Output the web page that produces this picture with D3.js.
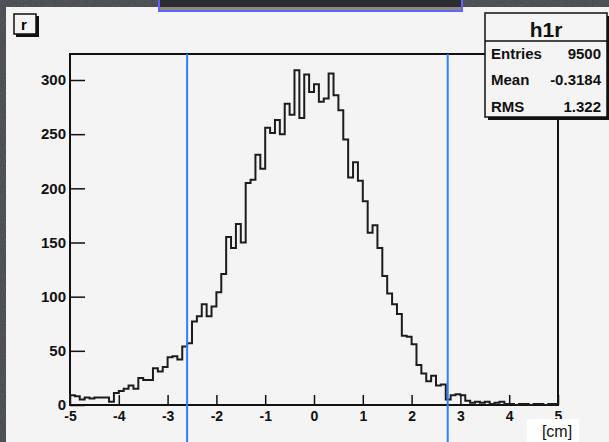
<!DOCTYPE html>
<html>
<head>
<meta charset="utf-8">
<title>h1r</title>
<script src="https://cdn.jsdelivr.net/npm/d3@7/dist/d3.min.js"></script>
<style>
  html, body { margin: 0; padding: 0; background: #3d4045; }
  svg { display: block; }
  text { font-family: "Liberation Sans", Arial, Helvetica, sans-serif; }
</style>
</head>
<body>
<svg id="svg" width="609" height="442"></svg>
<script>
// histogram h1r: 100 bins from -5 to 5
const xMin = -5;
const xMax = 5;
const counts = [
  9, 8, 5, 7, 6, 7, 7, 7, 3, 11,
  13, 15, 18, 15, 25, 23, 23, 34, 31, 35,
  44, 45, 42, 54, 57, 77, 82, 93, 82, 91,
  104, 121, 155, 145, 167, 150, 205, 208, 231, 218,
  256, 251, 263, 250, 278, 268, 309, 265, 305, 289,
  296, 280, 283, 306, 286, 272, 245, 210, 224, 207,
  188, 159, 166, 145, 119, 103, 93, 84, 64, 63,
  56, 37, 29, 22, 27, 18, 19, 5, 9, 10,
  9, 4, 2, 3, 2, 3, 1, 2, 3, 1,
  1, 0, 1, 1, 0, 1, 1, 0, 1, 1
];
const xTickValues = [-5, -4, -3, -2, -1, 0, 1, 2, 3, 4, 5];
const yTickValues = [0, 50, 100, 150, 200, 250, 300];
const cutLines = [-2.6, 2.74];
const statLabels = ['Entries', 'Mean', 'RMS'];
const statValues = ['9500', '-0.3184', '1.322'];
const histName = 'h1r';
const padName = 'r';
const xUnit = '[cm]';
const yTop = 324; // ROOT puts 5% headroom over the max bin

(function () {
  const svg = d3.select('#svg');
  const W = 609, H = 442;
  const frame = { left: 70, right: 558, top: 54, bottom: 405 };

  // dark slide background with a bit of grain
  const defs = svg.append('defs');
  const grain = defs.append('filter').attr('id', 'grain');
  grain.append('feTurbulence').attr('type', 'fractalNoise').attr('baseFrequency', 0.9).attr('numOctaves', 2).attr('result', 'n');
  grain.append('feColorMatrix').attr('in', 'n').attr('type', 'matrix')
    .attr('values', '0 0 0 0 0.3  0 0 0 0 0.31  0 0 0 0 0.34  0 0 0 0.5 0');
  grain.append('feComposite').attr('in2', 'SourceGraphic').attr('operator', 'over');

  svg.append('rect').attr('width', W).attr('height', H).attr('fill', '#3b3e43');
  svg.append('rect').attr('width', W).attr('height', H).attr('fill', '#3b3e43').attr('filter', 'url(#grain)').attr('opacity', 0.6);

  // canvas
  svg.append('rect').attr('x', 6).attr('y', 7).attr('width', W - 6).attr('height', H - 7).attr('fill', '#f4f4f4');

  // window strip at the top
  const strip = svg.append('g');
  strip.append('rect').attr('x', 158).attr('y', 0).attr('width', 305).attr('height', 12).attr('fill', '#6262ff');
  strip.append('rect').attr('x', 160).attr('y', 0).attr('width', 301).attr('height', 10).attr('fill', '#2b2d33');
  strip.append('rect').attr('x', 160).attr('y', 7).attr('width', 301).attr('height', 3).attr('fill', '#8a8a82');

  // pad label box
  svg.append('rect').attr('x', 16).attr('y', 16).attr('width', 23).attr('height', 21).attr('fill', '#111');
  svg.append('rect').attr('x', 14).attr('y', 14).attr('width', 22).attr('height', 20)
    .attr('fill', '#f4f4f4').attr('stroke', '#111').attr('stroke-width', 1.5);
  svg.append('text').attr('x', 21).attr('y', 30).attr('font-size', 15).attr('font-weight', 'bold').text(padName);

  const x = d3.scaleLinear().domain([xMin, xMax]).range([frame.left, frame.right]);
  const y = d3.scaleLinear().domain([0, yTop]).range([frame.bottom, frame.top]);

  // minor ticks
  const xMinor = d3.range(-25, 26).map(i => i / 5);
  const yMinor = d3.range(0, 33).map(i => i * 10);
  const plain = d => String(d); // ASCII hyphen like ROOT, not U+2212

  const gx = svg.append('g').attr('transform', `translate(0,${frame.bottom})`);
  gx.call(d3.axisBottom(x).tickValues(xMinor).tickSize(-5).tickFormat(''));
  gx.call(d3.axisBottom(x).tickValues(xTickValues).tickSize(-10).tickPadding(4).tickFormat(plain));
  const gy = svg.append('g').attr('transform', `translate(${frame.left},0)`);
  gy.call(d3.axisLeft(y).tickValues(yMinor).tickSize(-7).tickFormat(''));
  gy.call(d3.axisLeft(y).tickValues(yTickValues).tickSize(-15).tickPadding(4).tickFormat(plain));

  svg.selectAll('.domain').remove();
  svg.selectAll('.tick line').attr('stroke', '#111').attr('stroke-width', 1.5);
  svg.selectAll('.tick text').attr('fill', '#111').attr('font-size', 15).attr('font-weight', 'bold')
    .attr('font-family', '"Liberation Sans", Arial, sans-serif');
  gx.selectAll('.tick text').attr('font-size', 14).attr('dy', '0.85em');

  svg.append('rect').attr('x', frame.left).attr('y', frame.top)
    .attr('width', frame.right - frame.left).attr('height', frame.bottom - frame.top)
    .attr('fill', 'none').attr('stroke', '#111').attr('stroke-width', 2);

  // histogram outline
  const binW = (xMax - xMin) / counts.length;
  const pts = [[xMin, 0]].concat(counts.map((c, i) => [xMin + i * binW, c]), [[xMax, counts[counts.length - 1]], [xMax, 0]]);
  const line = d3.line().x(d => x(d[0])).y(d => y(d[1])).curve(d3.curveStepAfter);
  svg.append('path').attr('d', line(pts)).attr('fill', 'none').attr('stroke', '#1c1c1c').attr('stroke-width', 2);

  // cut lines
  svg.selectAll('line.cut').data(cutLines).join('line').attr('class', 'cut')
    .attr('x1', d => x(d)).attr('x2', d => x(d))
    .attr('y1', frame.top).attr('y2', H)
    .attr('stroke', '#2f80ff').attr('stroke-width', 2);

  // stats box
  const sb = { x: 485, y: 13, w: 122, h: 104 };
  svg.append('rect').attr('x', sb.x + 3).attr('y', sb.y + 3).attr('width', sb.w).attr('height', sb.h).attr('fill', '#111');
  svg.append('rect').attr('x', sb.x).attr('y', sb.y).attr('width', sb.w).attr('height', sb.h)
    .attr('fill', '#f4f4f4').attr('stroke', '#111').attr('stroke-width', 1.5);
  svg.append('line').attr('x1', sb.x).attr('x2', sb.x + sb.w).attr('y1', 41).attr('y2', 41)
    .attr('stroke', '#111').attr('stroke-width', 1.5);
  svg.append('text').attr('x', sb.x + sb.w / 2).attr('y', 36.5).attr('text-anchor', 'middle')
    .attr('font-size', 21).attr('font-weight', 'bold').attr('fill', '#111').text(histName);
  const rows = svg.append('g').selectAll('g').data(statLabels).join('g')
    .attr('transform', (d, i) => `translate(0,${58.5 + i * 26.5})`);
  rows.append('text').attr('x', sb.x + 6).attr('font-size', 15).attr('font-weight', 'bold').attr('fill', '#111').text(d => d);
  rows.append('text').attr('x', sb.x + sb.w - 6).attr('text-anchor', 'end')
    .attr('font-size', 15).attr('font-weight', 'bold').attr('fill', '#111').text((d, i) => statValues[i]);

  // axis unit
  svg.append('rect').attr('x', 527).attr('y', 419).attr('width', 52).attr('height', 23).attr('fill', '#ffffff');
  svg.append('text').attr('x', 557).attr('y', 437).attr('text-anchor', 'middle')
    .attr('font-size', 16).attr('fill', '#111').text(xUnit);
})();
</script>
</body>
</html>
